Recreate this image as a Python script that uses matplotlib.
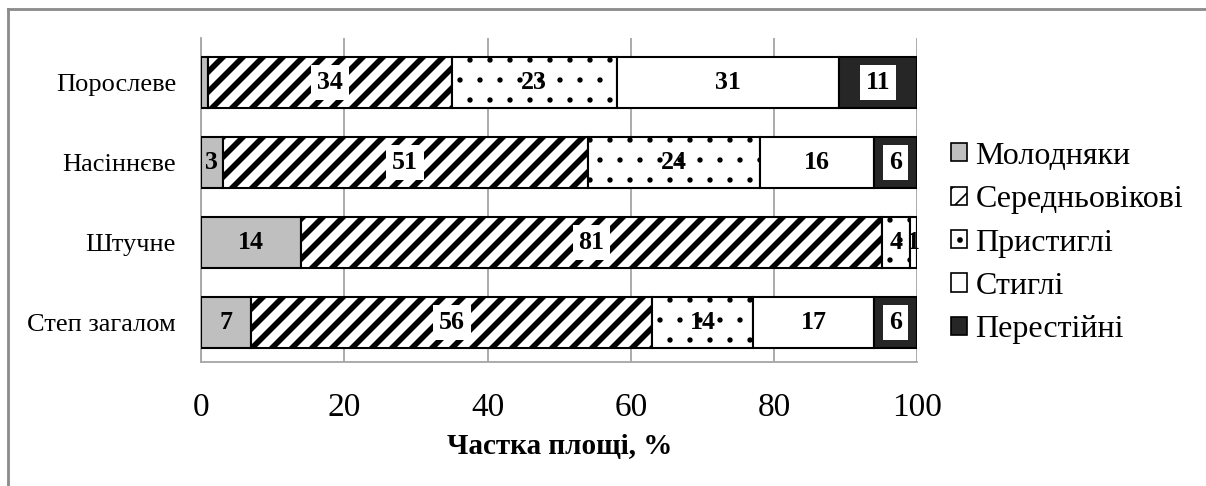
import matplotlib.pyplot as plt
from matplotlib.lines import Line2D
from matplotlib.patches import Patch

plt.rcParams['font.family'] = ['Liberation Serif', 'DejaVu Serif']

# stand origins, top to bottom
categories = ['Порослеве', 'Насіннєве', 'Штучне', 'Степ загалом']

# age groups, share of area in %
young = [1, 3, 14, 7]
middle = [34, 51, 81, 56]
premature = [23, 24, 4, 14]
mature = [31, 16, 1, 17]
overmature = [11, 6, 0, 6]

series_names = ['Молодняки', 'Середньовікові', 'Пристиглі', 'Стиглі', 'Перестійні']
series_values = [young, middle, premature, mature, overmature]

# (facecolor, hatch, hatch width, boxed label)
styles = [
    ('#bfbfbf', None, 1.0, False),
    ('white', '//', 3.4, True),
    ('white', '.', 0.8, False),
    ('white', None, 1.0, False),
    ('#262626', None, 1.0, True),
]

# labels not printed on the chart (category index, series index)
hidden = {(0, 0)}

DPI = 120
fig = plt.figure(figsize=(1206 / DPI, 486 / DPI), dpi=DPI)
ax = fig.add_axes([0.1667, 0.255, 0.594, 0.667])

ypos = [3, 2, 1, 0]
left = [0] * len(categories)
handles = []
for s, (name, vals) in enumerate(zip(series_names, series_values)):
    fc, hatch, hlw, boxed = styles[s]
    with plt.rc_context({'hatch.linewidth': hlw, 'hatch.color': 'black'}):
        bars = ax.barh(ypos, vals, left=left, height=0.64, color=fc,
                       edgecolor='black', linewidth=1.25, hatch=hatch,
                       label=name, zorder=3)
        handle = Patch(facecolor=fc, edgecolor='black', linewidth=1.0,
                       hatch=hatch, label=name)
        for p in list(bars) + [handle]:
            if hasattr(p, 'set_hatch_linewidth'):
                p.set_hatch_linewidth(hlw)
    handles.append(handle)
    for i, v in enumerate(vals):
        if v > 0 and (i, s) not in hidden:
            kw = {}
            if boxed:
                kw['bbox'] = dict(facecolor='white', edgecolor='none', pad=3.5)
            ax.text(left[i] + v / 2, ypos[i], str(v), ha='center', va='center',
                    fontsize=15.5, fontweight='bold', zorder=5, **kw)
    left = [a + b for a, b in zip(left, vals)]

ax.set_xlim(0, 100)
ax.set_ylim(-0.5, 3.56)
ax.set_xticks([0, 20, 40, 60, 80, 100])
ax.set_yticks(ypos)
ax.set_yticklabels(categories, fontsize=15.8)
ax.tick_params(axis='x', labelsize=20, length=0, pad=18)
ax.tick_params(axis='y', length=0, pad=15)
ax.grid(axis='x', color='#a6a6a6', linewidth=1.1, zorder=0)
ax.set_axisbelow(True)
for side in ['top', 'right']:
    ax.spines[side].set_visible(False)
for side in ['left', 'bottom']:
    ax.spines[side].set_color('#a6a6a6')
    ax.spines[side].set_linewidth(1.1)
ax.set_xlabel('Частка площі, %', fontsize=17.5, fontweight='bold', labelpad=6)

fig.legend(handles=handles, loc='center left', bbox_to_anchor=(0.765, 0.50),
           frameon=False, fontsize=19.2, handlelength=0.5, handleheight=0.5,
           handletextpad=0.25, labelspacing=0.45)

# outer frame around the chart
fig.add_artist(Line2D([8 / 1206, 1.0], [1 - 9 / 486, 1 - 9 / 486],
                      transform=fig.transFigure, color='#8c8c8c', linewidth=1.7))
fig.add_artist(Line2D([8 / 1206, 8 / 1206], [0, 1 - 9 / 486],
                      transform=fig.transFigure, color='#8c8c8c', linewidth=1.7))

fig.savefig('out.png', dpi=DPI)
